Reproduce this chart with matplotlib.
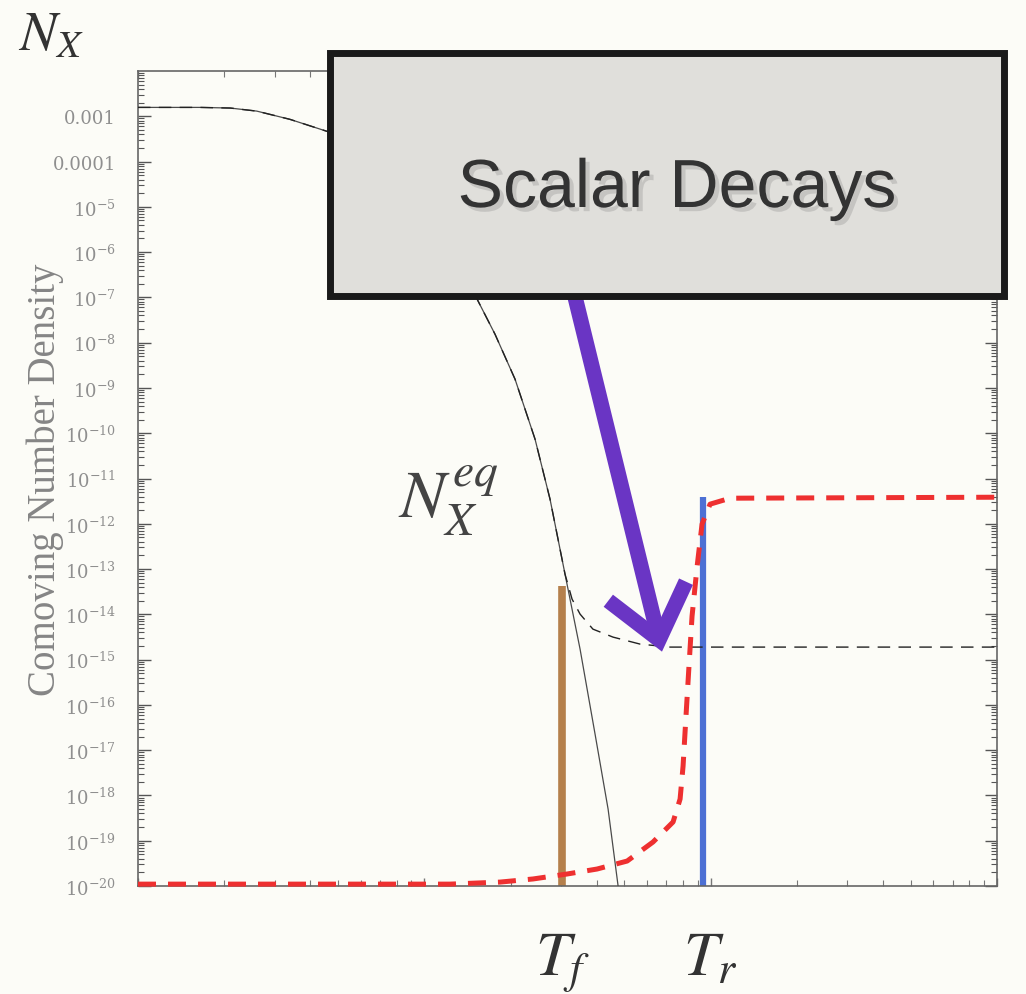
import numpy as np
import matplotlib
matplotlib.use('Agg')
import matplotlib.pyplot as plt
from matplotlib.patches import Rectangle, FancyArrowPatch
import matplotlib.patheffects as pe
from matplotlib.ticker import FixedLocator, LogLocator, NullFormatter
import matplotlib.transforms as mtrans

# ---------------- data ----------------
# x: log-scaled temperature-like variable (1 .. 1000), y: comoving number density
x_eq = [1.0, 1.647, 2.1, 2.6, 3.395, 4.685, 7.003, 9.66, 12.29, 14.68, 17.66, 20.74,
        24.36, 27.48, 31.0, 34.99, 39.47, 43.83, 47.5]
y_eq = [1.57e-3, 1.57e-3, 1.52e-3, 1.3e-3, 8.55e-4, 4.42e-4, 8.67e-5, 1.14e-5, 1.49e-6,
        1.51e-7, 1.53e-8, 1.56e-9, 7.38e-11, 3.49e-12, 7.7e-14, 1.7e-15,
        2.26e-17, 5.0e-19, 1.0e-20]

x_nx = [1.0, 1.647, 2.1, 2.6, 3.395, 4.685, 7.003, 9.66, 12.29, 14.68, 17.66, 20.74,
        24.36, 27.48, 31.0, 32.8, 34.99, 38.8, 45.6, 56.7, 72.2, 1000.0]
y_nx = [1.57e-3, 1.57e-3, 1.52e-3, 1.3e-3, 8.55e-4, 4.42e-4, 8.67e-5, 1.14e-5, 1.49e-6,
        1.51e-7, 1.53e-8, 1.56e-9, 7.38e-11, 3.49e-12, 7.7e-14, 2.17e-14,
        1.01e-14, 4.71e-15, 3.14e-15, 2.2e-15, 1.89e-15, 1.89e-15]

x_dm = [1.0, 12.29, 18.38, 23.97, 31.5, 40.1, 51.1, 62.9, 73.9, 78.2, 80.1, 82.0,
        84.0, 86.1, 89.7, 93.3, 99.5, 116.9, 1000.0]
y_dm = [1.1e-20, 1.1e-20, 1.22e-20, 1.43e-20, 1.84e-20, 2.37e-20, 3.56e-20,
        9.36e-20, 2.59e-19, 8.33e-19, 4.46e-18, 5.66e-17, 7.19e-16, 9.12e-15,
        1.16e-13, 9.8e-13, 2.71e-12, 3.67e-12, 3.86e-12]

T_f, T_f_top = 30.3, 4.2e-14
T_r, T_r_top = 94.0, 4.0e-12
arrow_tail = (33.1, 1.5e-7)
arrow_tip = (67.6, 1.5e-15)

ytick_exps = list(range(-20, -2))
ytick_labels = [("0.001" if e == -3 else "0.0001" if e == -4 else r"$10^{%d}$" % e)
                for e in ytick_exps]

# ---------------- figure ----------------
W, H = 1026, 995
bg = '#fcfcf7'
fig = plt.figure(figsize=(W / 100, H / 100), dpi=100, facecolor=bg)
ax = fig.add_axes([138 / W, 1 - 887 / H, (997 - 138) / W, (887 - 72) / H], facecolor=bg)

ax.set_xscale('log')
ax.set_yscale('log')
ax.set_xlim(1, 1000)
ax.set_ylim(1e-20, 1e-2)

# curves
ax.plot(x_eq, y_eq, color='#4a4a4a', lw=0.9, zorder=3)
ax.plot(x_nx, y_nx, color='#222222', lw=1.0, dashes=(9, 6), zorder=3)
ax.plot(x_dm, y_dm, color='#ee3030', lw=3.6, dashes=(3.6, 2.4), zorder=4,
        clip_on=False, solid_capstyle='butt', dash_capstyle='butt')
ax.vlines([T_f], 1e-20, [T_f_top], color='#b5804c', lw=5.5, zorder=2)
ax.vlines([T_r], 1e-20, [T_r_top], color='#4d70d4', lw=4.5, zorder=2)

# purple arrow
arr = FancyArrowPatch(arrow_tail, arrow_tip,
                      arrowstyle='->,head_length=0.6,head_width=0.48',
                      mutation_scale=60, lw=11, color='#6a35c4',
                      shrinkA=0, shrinkB=0, zorder=6, capstyle='butt',
                      joinstyle='miter')
ax.add_patch(arr)

# ticks
ax.yaxis.set_major_locator(FixedLocator([10.0 ** e for e in ytick_exps]))
ax.set_yticklabels(ytick_labels)
ax.yaxis.set_minor_locator(LogLocator(base=10, subs=np.arange(2, 10), numticks=100))
ax.yaxis.set_minor_formatter(NullFormatter())
ax.xaxis.set_major_locator(LogLocator(base=10, numticks=10))
ax.xaxis.set_minor_locator(LogLocator(base=10, subs=np.arange(2, 10), numticks=100))
ax.xaxis.set_major_formatter(NullFormatter())
ax.xaxis.set_minor_formatter(NullFormatter())

ax.tick_params(axis='y', which='major', direction='in', length=9, width=1.0,
               color='#555555', left=True, right=True, pad=16,
               labelsize=13, labelcolor='#8f8f8f')
ax.tick_params(axis='y', which='minor', direction='in', length=4.5, width=0.8,
               color='#555555', left=True, right=True)
ax.tick_params(axis='x', which='major', direction='in', length=6, width=1.0,
               color='#777777', top=True, bottom=True)
ax.tick_params(axis='x', which='minor', direction='in', length=4, width=0.8,
               color='#777777', top=True, bottom=True)
for lbl in ax.get_yticklabels():
    lbl.set_fontfamily('DejaVu Serif')
    lbl.set_math_fontfamily('dejavuserif')

for s in ax.spines.values():
    s.set_color('#666666')
    s.set_linewidth(1.2)

ax.set_ylabel('Comoving Number Density', family='Liberation Serif', fontsize=28,
              color='#858585')
ax.yaxis.set_label_coords(-0.086, 0.5)

# labels
fig.text(18 / W, 1 - 50 / H, r'$N_X$', fontsize=40, color='#333333',
         math_fontfamily='stix', ha='left', va='baseline')
fig.text(398 / W, 1 - 518 / H, r'$N_X^{eq}$', fontsize=49, color='#444444',
         math_fontfamily='stix', ha='left', va='baseline')
trans = mtrans.blended_transform_factory(ax.transData, fig.transFigure)
ax.text(T_f, 1 - 976 / H, r'$T_f$', transform=trans, fontsize=45, color='#333333',
        math_fontfamily='stix', ha='center', va='baseline')
ax.text(T_r + 6, 1 - 976 / H, r'$T_r$', transform=trans, fontsize=45, color='#333333',
        math_fontfamily='stix', ha='center', va='baseline')

# callout box
box = Rectangle((330 / W, 1 - 297 / H), (1004 - 330) / W, (297 - 54) / H,
                transform=fig.transFigure, facecolor='#e0dfdb', edgecolor='#1a1a1a',
                lw=5, zorder=10)
fig.patches.append(box)
fig.text(677 / W, 1 - 190 / H, 'Scalar Decays', family='Liberation Sans', fontsize=49,
         color='#333333', ha='center', va='center', zorder=11,
         path_effects=[pe.withSimplePatchShadow(offset=(3, -3), shadow_rgbFace='#888888', alpha=0.3)])

fig.savefig('out.png', dpi=100, facecolor=bg)
